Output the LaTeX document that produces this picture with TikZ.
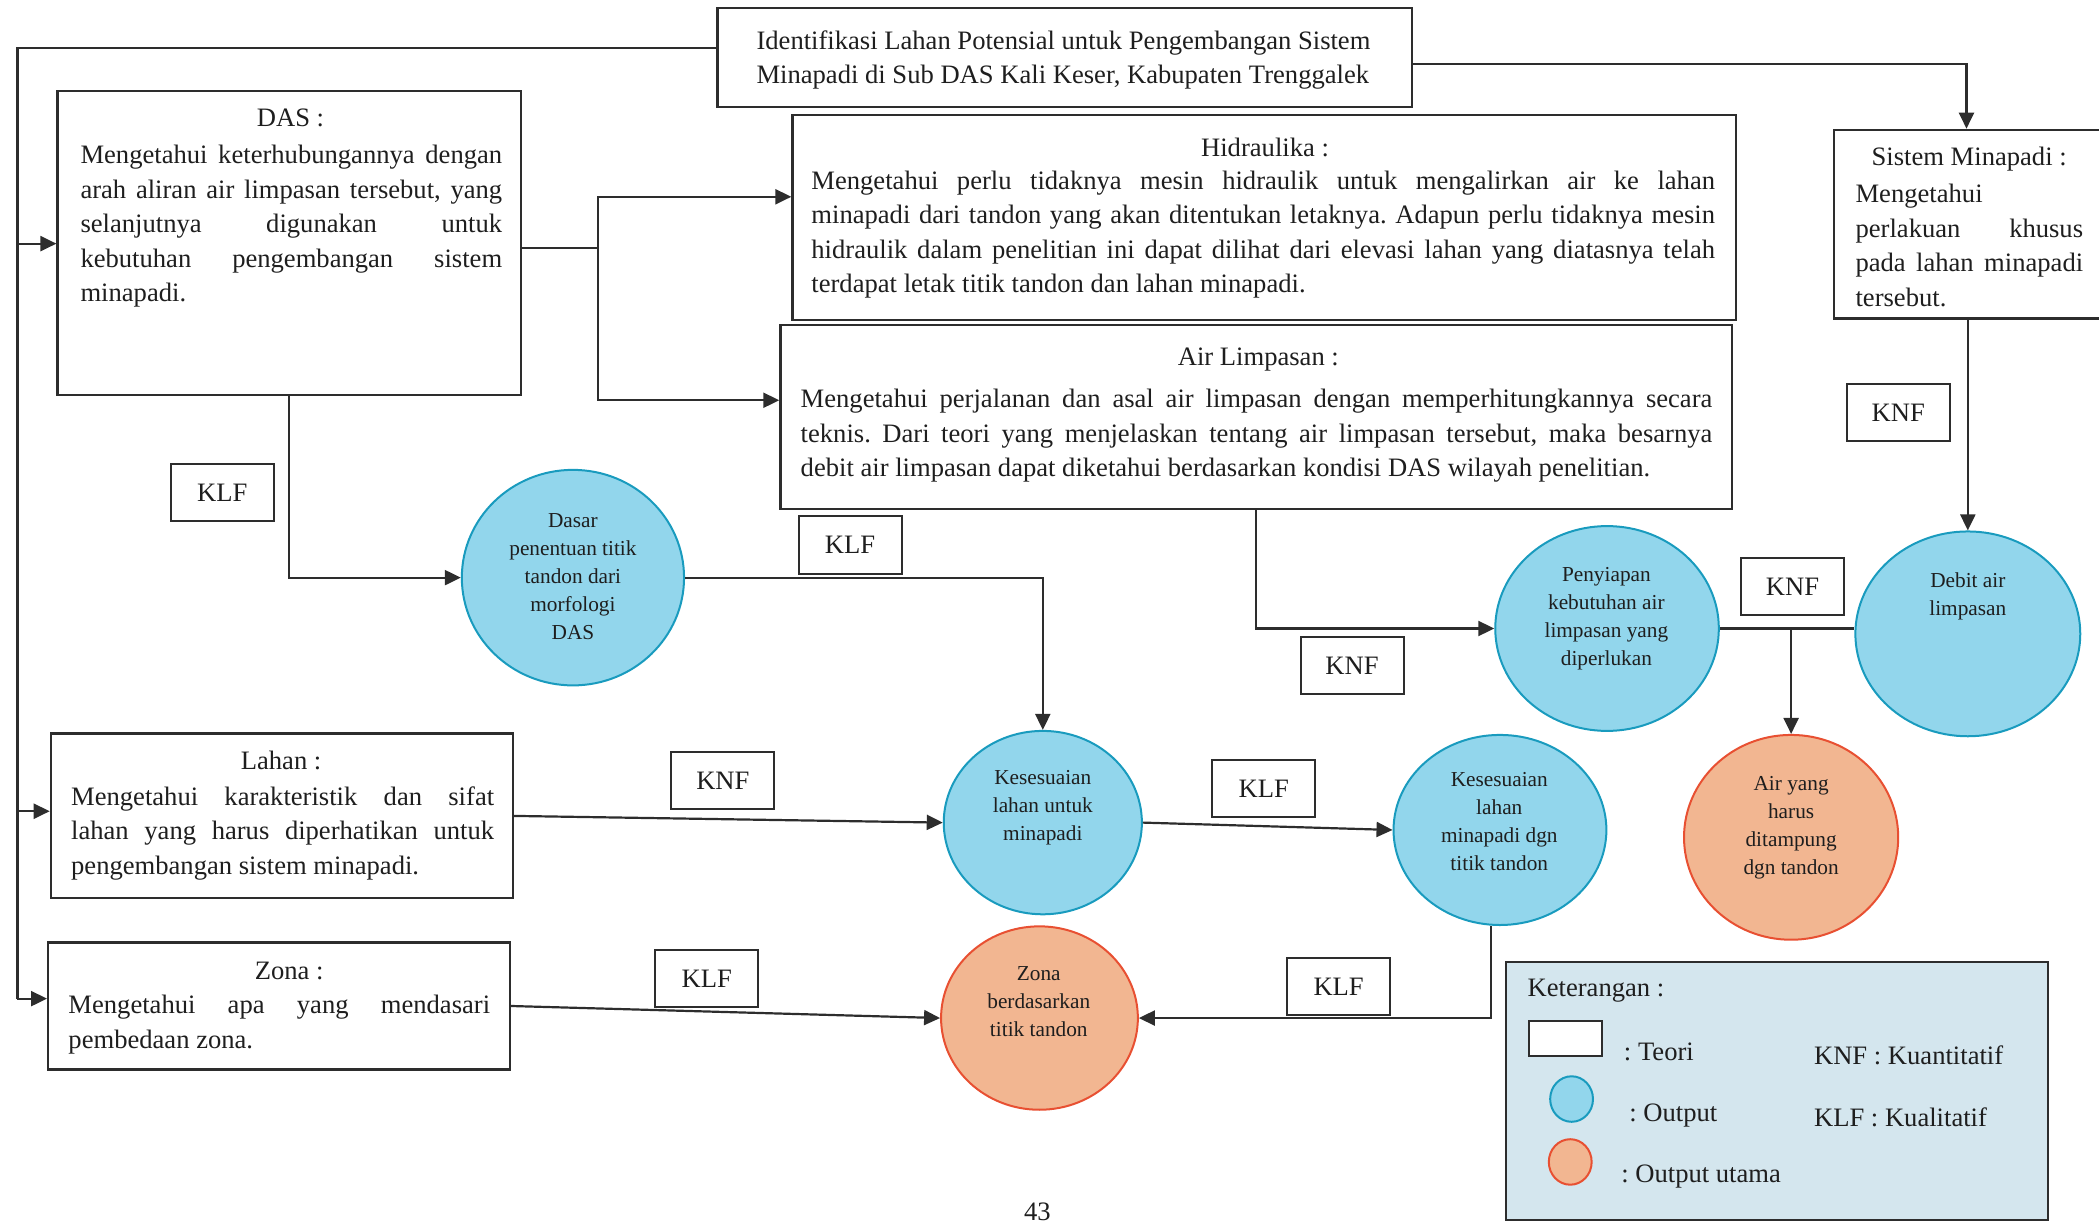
\documentclass[tikz,border=0pt]{standalone}
\usepackage{fontspec}
\setmainfont{Liberation Serif}
\usetikzlibrary{arrows.meta,shapes.geometric,fit,calc}
\newcommand{\pxu}{1.3387pt}
\definecolor{bluefill}{RGB}{146,214,236}
\definecolor{blueline}{RGB}{25,155,190}
\definecolor{orfill}{RGB}{242,182,145}
\definecolor{orline}{RGB}{232,80,50}
\definecolor{legfill}{RGB}{212,230,238}
\definecolor{linec}{RGB}{45,45,45}
\definecolor{textc}{RGB}{30,30,30}
\frenchspacing
\begin{document}
\begin{tikzpicture}[x=1.3387pt,y=-1.3387pt,
  bodyfont/.style={font=\fontsize{26.6pt}{34.5pt}\selectfont},
  theory/.style={draw=linec, line width=2.3pt, inner sep=0pt},
  bodytext/.style={bodyfont, text=textc, inner sep=0pt, align=justify, anchor=north west},
  head/.style={bodyfont, text=textc, inner sep=0pt},
  outc/.style={ellipse, draw=blueline, fill=bluefill, line width=2pt, inner sep=0pt},
  mainc/.style={ellipse, draw=orline, fill=orfill, line width=2pt, inner sep=0pt},
  ctext/.style={font=\fontsize{21.3pt}{28pt}\selectfont, align=center, text=textc, inner sep=0pt},
  tag/.style={draw=linec, line width=2pt, minimum width=77*\pxu, minimum height=43*\pxu, inner sep=0pt, bodyfont, text=textc},
  conn/.style={draw=linec, line width=2.2pt},
  arr/.style={conn, -{Triangle[length=16pt,width=15pt]}}
]
\useasboundingbox (0,0) rectangle (1568,914);

% ---------- theory boxes ----------
\node[theory, fit={(536,6) (1055,80)}] (title) {};
\node[head, align=left, anchor=north west] (titletext) at (565,22.5)
  {Identifikasi Lahan Potensial untuk Pengembangan Sistem\\Minapadi di Sub DAS Kali Keser, Kabupaten Trenggalek};

\node[theory, fit={(43,68) (389,295)}] (das) {};
\node[head] (dashead) at (217,88) {DAS :};
\node[bodytext, text width=315*\pxu] (dasbody) at (60,108.5)
  {Mengetahui keterhubungannya dengan\linebreak
   arah aliran air limpasan tersebut, yang\linebreak
   selanjutnya digunakan untuk\linebreak
   kebutuhan pengembangan sistem\linebreak
   minapadi.};

\node[theory, fit={(592,86) (1297,239)}] (hid) {};
\node[head] (hidhead) at (945,110.5) {Hidraulika :};
\node[bodytext, text width=675*\pxu] (hidbody) at (606,127.5)
  {Mengetahui perlu tidaknya mesin hidraulik untuk mengalirkan air ke lahan\linebreak
   minapadi dari tandon yang akan ditentukan letaknya. Adapun perlu tidaknya mesin\linebreak
   hidraulik dalam penelitian ini dapat dilihat dari elevasi lahan yang diatasnya telah\linebreak
   terdapat letak titik tandon dan lahan minapadi.};

\node[theory, fit={(583,243) (1294,380)}] (air) {};
\node[head] (airhead) at (940,268.5) {Air Limpasan :};
\node[bodytext, text width=681*\pxu] (airbody) at (598,290.5)
  {Mengetahui perjalanan dan asal air limpasan dengan memperhitungkannya secara\linebreak
   teknis. Dari teori yang menjelaskan tentang air limpasan tersebut, maka besarnya\linebreak
   debit air limpasan dapat diketahui berdasarkan kondisi DAS wilayah penelitian.};

\node[theory, fit={(1370,97) (1590,238)}] (sis) {};
\node[head] (sishead) at (1471,119) {Sistem Minapadi :};
\node[bodytext, text width=170*\pxu] (sisbody) at (1386,137.5)
  {Mengetahui\\
   perlakuan khusus\linebreak
   pada lahan minapadi\linebreak
   tersebut.};

\node[theory, fit={(38,548) (383,671)}] (lahan) {};
\node[head] (lahanhead) at (210,568) {Lahan :};
\node[bodytext, text width=316*\pxu] (lahanbody) at (53,587.5)
  {Mengetahui karakteristik dan sifat\linebreak
   lahan yang harus diperhatikan untuk\linebreak
   pengembangan sistem minapadi.};

\node[theory, fit={(36,704) (381,799)}] (zona) {};
\node[head] (zonahead) at (216,725) {Zona :};
\node[bodytext, text width=315*\pxu] (zonabody) at (51,743.5)
  {Mengetahui apa yang mendasari\linebreak
   pembedaan zona.};

% ---------- outputs ----------
\node[outc, minimum width=166*\pxu, minimum height=161*\pxu] (c1) at (428,431.5) {};
\node[ctext] (c1t) at (428,431) {Dasar\\penentuan titik\\tandon dari\\morfologi\\DAS};

\node[outc, minimum width=148*\pxu, minimum height=137*\pxu] (c2) at (779,614.5) {};
\node[ctext] (c2t) at (779,603.5) {Kesesuaian\\lahan untuk\\minapadi};

\node[outc, minimum width=159*\pxu, minimum height=142*\pxu] (c3) at (1120.5,620) {};
\node[ctext] (c3t) at (1120,614) {Kesesuaian\\lahan\\minapadi dgn\\titik tandon};

\node[mainc, minimum width=147*\pxu, minimum height=137*\pxu] (c4) at (776.5,760.5) {};
\node[ctext] (c4t) at (776,748) {Zona\\berdasarkan\\titik tandon};

\node[outc, minimum width=167*\pxu, minimum height=153*\pxu] (c5) at (1200.5,469.5) {};
\node[ctext] (c5t) at (1200,462.5) {Penyiapan\\kebutuhan air\\limpasan yang\\diperlukan};

\node[outc, minimum width=168*\pxu, minimum height=153*\pxu] (c6) at (1470,473.5) {};
\node[ctext] (c6t) at (1470,445.5) {Debit air\\limpasan};

\node[mainc, minimum width=160*\pxu, minimum height=153*\pxu] (c7) at (1338,625.5) {};
\node[ctext] (c7t) at (1338,618.5) {Air yang\\harus\\ditampung\\dgn tandon};

% ---------- tags ----------
\node[tag] (t1) at (166,368) {KLF};
\node[tag] (t2) at (635,407) {KLF};
\node[tag] (t3) at (1418,308) {KNF};
\node[tag] (t4) at (1010,497) {KNF};
\node[tag] (t5) at (1339,438) {KNF};
\node[tag] (t6) at (540,583) {KNF};
\node[tag] (t7) at (944,589) {KLF};
\node[tag] (t8) at (528,731) {KLF};
\node[tag] (t9) at (1000,737) {KLF};

% ---------- connectors ----------
\coordinate (bTop) at (13,36);
\coordinate (bDas) at (13,182);
\coordinate (bLah) at (13,606);
\coordinate (bZon) at (13,746);
\draw[conn] (title.west |- bTop) -- (bTop) -- (bZon);
\draw[arr] (bDas) -- (das.west |- bDas);
\draw[arr] (bLah) -- (lahan.west |- bLah);
\draw[arr] (bZon) -- (zona.west |- bZon);

\coordinate (tR) at (1055,48);
\coordinate (xs) at (1469,0);
\draw[arr] (title.east |- tR) -| (xs |- sis.north);

\coordinate (jd) at (447,185);
\coordinate (jh) at (447,147);
\coordinate (ja) at (447,299);
\draw[conn] (das.east |- jd) -- (jd);
\draw[arr] (jd) -- (jh) -- (hid.west |- jh);
\draw[arr] (jd) -- (ja) -- (air.west |- ja);

\draw[arr] (das.south) |- (c1.west);
\draw[arr] (c1.east) -| (c2.north);
\draw[arr] (air.south) |- (c5.west);
\draw[arr] (c6.north |- sis.south) -- (c6.north);
\draw[conn] (c5.east) -- (c6.west |- c5.east);
\draw[arr] (c7.north |- c5.east) -- (c7.north);
\draw[arr] (lahan.east) -- (c2.west);
\draw[arr] (c2.east) -- (c3.west);
\coordinate (xk) at (1114,0);
\draw[arr] (xk |- c3.south) |- (c4.east);
\draw[arr] (zona.east) -- (c4.west);

% ---------- legend ----------
\node[draw=linec, line width=2pt, fill=legfill, inner sep=0pt, fit={(1125,719) (1530,911)}] (leg) {};
\node[head, anchor=west] (legtitle) at (1141,740) {Keterangan :};
\node[draw=linec, line width=2pt, fill=white, inner sep=0pt, fit={(1142,763) (1197,789)}] (legbox) {};
\node[head, anchor=west] (legteori) at (1213,786) {: Teori};
\node[outc, minimum width=32*\pxu, minimum height=34*\pxu] (legblue) at (1174,821) {};
\node[head, anchor=west] (legout) at (1217,833) {: Output};
\node[mainc, minimum width=32*\pxu, minimum height=34*\pxu] (legor) at (1173,868) {};
\node[head, anchor=west] (legmain) at (1211,879) {: Output utama};
\node[head, anchor=west] (legknf) at (1355,788) {KNF : Kuantitatif};
\node[head, anchor=west] (legklf) at (1355,835) {KLF : Kualitatif};

% ---------- page number ----------
\node[head, anchor=base] (pg) at (775,912) {43};
\end{tikzpicture}
\end{document}
